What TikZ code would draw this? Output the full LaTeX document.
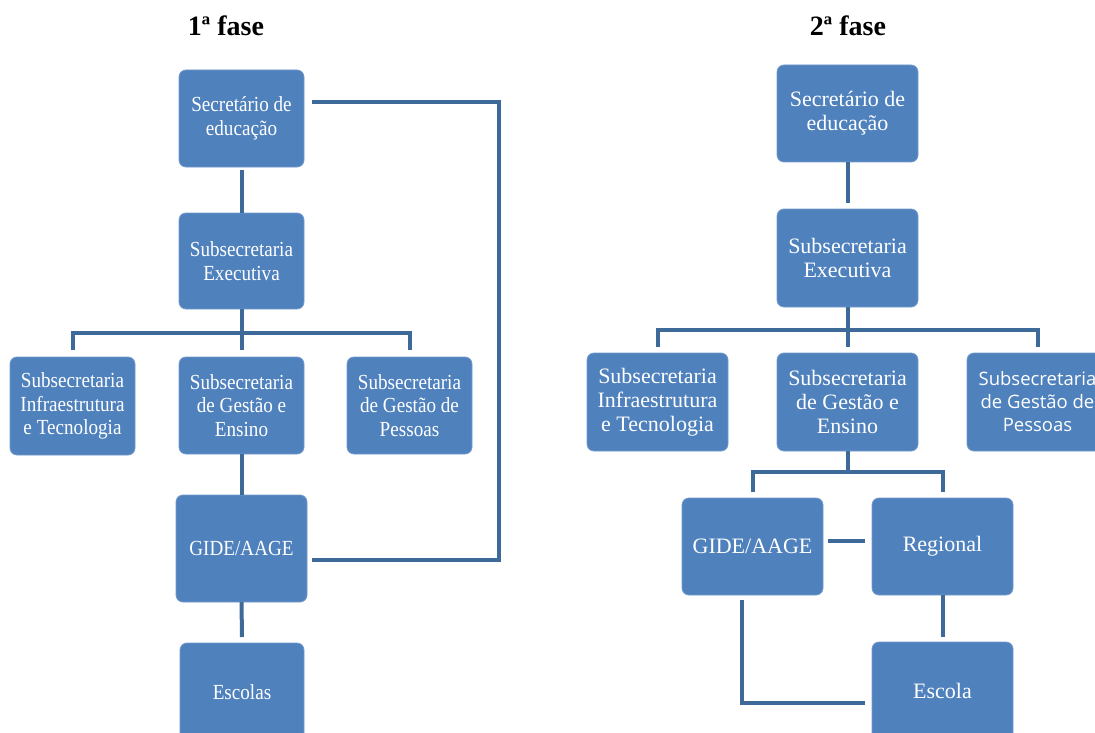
\documentclass[tikz,border=0pt]{standalone}
\usepackage{fontspec}
\setmainfont{Liberation Serif}
\newfontfamily\lfont[FakeStretch=0.89]{Liberation Serif}
\newfontfamily\rsans{Open Sans}
\definecolor{boxblue}{RGB}{79,129,189}
\definecolor{lineblue}{RGB}{62,106,154}
\begin{document}
\begin{tikzpicture}[x=1pt,y=-1pt,
  box/.style={rectangle, rounded corners=7pt, fill=boxblue, draw=boxblue!80!white,
    line width=0.8pt, inner sep=0pt, outer sep=0pt, text=white, align=center},
  lbox/.style={box, font=\lfont\fontsize{21.5}{23.5}\selectfont},
  rbox/.style={box, font=\fontsize{22}{24}\selectfont},
  sbox/.style={box, font=\rsans\fontsize{18.5}{23}\selectfont},
  conn/.style={draw=lineblue, line width=4pt},
  title/.style={font=\bfseries\fontsize{28}{30}\selectfont, anchor=base}]
\useasboundingbox (0,0) rectangle (1095,733);
\fill[white] (0,0) rectangle (1095,733);
\clip (0,0) rectangle (1095,733);

% titles
\node[title] (t1) at (226,36) {1ª fase};
\node[title] (t2) at (848,36) {2ª fase};

% ---------- 1a fase ----------
\node[lbox, minimum width=125, minimum height=97] (sec1) at (241.5,118.5) {Secretário de\\educação};
\node[lbox, minimum width=125, minimum height=96] (exe1) at (241.5,261) {Subsecretaria\\Executiva};
\node[lbox, minimum width=125, minimum height=98] (inf1) at (72.5,406) {Subsecretaria\\Infraestrutura\\e Tecnologia};
\node[lbox, minimum width=125, minimum height=97] (ges1) at (241.5,405.5) {Subsecretaria\\de Gestão e\\Ensino};
\node[lbox, minimum width=125, minimum height=97] (pes1) at (409.5,405.5) {Subsecretaria\\de Gestão de\\Pessoas};
\node[lbox, minimum width=131, minimum height=107] (gid1) at (241.5,548.5) {GIDE/AAGE};
\node[lbox, minimum width=124, minimum height=98] (esc1) at (242,692) {Escolas};

\draw[conn] ([yshift=-3pt]sec1.south) -- (exe1.north);
\coordinate (b1) at (241.5,333);
\draw[conn] (exe1.south) -- ([yshift=7pt]ges1.north);
\draw[conn] ([yshift=7pt]inf1.north) |- (b1) -| ([yshift=7pt]pes1.north);
\draw[conn] (ges1.south) -- (gid1.north);
\draw[conn] (gid1.south) -- ([yshift=6pt]esc1.north);
\coordinate (f1) at (499,300);
\draw[conn] ([xshift=8pt,yshift=16.5pt]sec1.east) -| (f1) |- ([xshift=5pt,yshift=-11.5pt]gid1.east);

% ---------- 2a fase ----------
\node[rbox, minimum width=141, minimum height=97] (sec2) at (847.5,113.5) {Secretário de\\educação};
\node[rbox, minimum width=141, minimum height=98] (exe2) at (847.5,258) {Subsecretaria\\Executiva};
\node[rbox, minimum width=141, minimum height=98] (inf2) at (657.5,402) {Subsecretaria\\Infraestrutura\\e Tecnologia};
\node[rbox, minimum width=141, minimum height=98] (ges2) at (847.5,402) {Subsecretaria\\de Gestão e\\Ensino};
\node[sbox, minimum width=141, minimum height=98] (pes2) at (1037.5,402) {Subsecretaria\\de Gestão de\\Pessoas};
\node[rbox, minimum width=141, minimum height=97] (gid2) at (752.5,546.5) {GIDE/AAGE};
\node[rbox, minimum width=141, minimum height=97] (reg2) at (942.5,546.5) {Regional};
\node[rbox, minimum width=141, minimum height=98] (esc2) at (942.5,691) {Escola};

\draw[conn] (sec2.south) -- ([yshift=6pt]exe2.north);
\coordinate (b2) at (847.5,330);
\draw[conn] (exe2.south) -- ([yshift=6pt]ges2.north);
\draw[conn] ([yshift=6pt]inf2.north) |- (b2) -| ([yshift=6pt]pes2.north);
\coordinate (b3) at (847.5,472);
\draw[conn] (ges2.south) -- (b3);
\draw[conn] ([yshift=6pt]gid2.north) |- (b3) -| ([yshift=6pt]reg2.north);
\draw[conn] ([xshift=5pt,yshift=5.5pt]gid2.east) -- ([xshift=-7pt,yshift=5.5pt]reg2.west);
\draw[conn] (reg2.south) -- ([yshift=5pt]esc2.north);
\draw[conn] ([xshift=-10.5pt,yshift=-5pt]gid2.south) |- ([xshift=-7pt,yshift=-12pt]esc2.west);
\end{tikzpicture}
\end{document}
